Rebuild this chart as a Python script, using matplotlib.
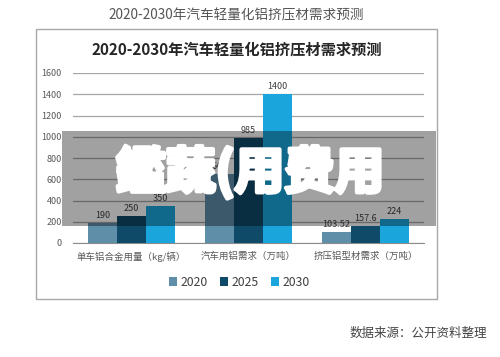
import matplotlib
matplotlib.use("Agg")
import matplotlib.pyplot as plt
import matplotlib.patheffects as pe
from matplotlib.patches import Rectangle
import numpy as np

plt.rcParams['font.family'] = ['Noto Sans CJK SC', 'DejaVu Sans']

categories = ["单车铝合金用量（kg/辆）", "汽车用铝需求（万吨）", "挤压铝型材需求（万吨）"]
years = ["2020", "2025", "2030"]
values_2020 = [190, 645, 103.52]
values_2025 = [250, 985, 157.6]
values_2030 = [350, 1400, 224]
labels_2020 = ["190", "645", "103.52"]
labels_2025 = ["250", "985", "157.6"]
labels_2030 = ["350", "1400", "224"]
yticks = [0, 200, 400, 600, 800, 1000, 1200, 1400, 1600]

colors = ["#5e8ea8", "#0f4a68", "#1aa5dd"]

W, H = 500, 357
fig = plt.figure(figsize=(5, 3.57), dpi=100)

def fx(px):
    return px / W

def fy(py):
    return 1 - py / H

# outer title
fig.text(fx(236), fy(15), "2020-2030年汽车轻量化铝挤压材需求预测", ha='center', va='center',
         fontsize=9.8, color='#555555')

# chart box
fig.add_artist(Rectangle((fx(36), fy(299)), fx(437) - fx(36), fy(29) - fy(299),
                         transform=fig.transFigure, facecolor='white', edgecolor='#a8a8a8',
                         linewidth=1.0, zorder=0))

fig.text(fx(237), fy(50), "2020-2030年汽车轻量化铝挤压材需求预测", ha='center', va='center',
         fontsize=11, fontweight='bold', color='#262626')

ax = fig.add_axes([fx(73), fy(243), fx(424) - fx(73), fy(73) - fy(243)])
ax.set_facecolor('none')
x = np.arange(len(categories))
bw = 0.248
series = [(values_2020, labels_2020), (values_2025, labels_2025), (values_2030, labels_2030)]
for i, ((vals, labs), c, yr) in enumerate(zip(series, colors, years)):
    bars = ax.bar(x + (i - 1) * bw, vals, width=bw, color=c, label=yr, zorder=3)
    for b, lab in zip(bars, labs):
        ax.text(b.get_x() + b.get_width() / 2, b.get_height() + 30, lab, ha='center', va='bottom',
                fontsize=6.5, color='#404040', zorder=4)

ax.set_xlim(-0.5, 2.5)
ax.set_ylim(0, 1600)
ax.set_yticks(yticks)
ax.set_yticklabels([str(t) for t in yticks], fontsize=6.5, color='#595959')
ax.set_xticks(x)
ax.set_xticklabels(categories, fontsize=6.8, color='#595959')
ax.tick_params(axis='both', length=0, pad=8)
ax.tick_params(axis='x', pad=6)
ax.grid(axis='y', color='#a6a6a6', linewidth=0.9, zorder=0)
for s in ['top', 'right', 'left']:
    ax.spines[s].set_visible(False)
ax.spines['bottom'].set_color('#8c8c8c')

handles, labs = ax.get_legend_handles_labels()
fig.legend(handles, labs, loc='center', bbox_to_anchor=(fx(239), fy(282)), ncol=3,
           frameon=False, fontsize=8.8, handlelength=0.7, handleheight=0.7,
           handletextpad=0.25, columnspacing=1.0, labelcolor='#404040')

# grey overlay band
fig.add_artist(Rectangle((fx(62), fy(226)), fx(436) - fx(62), fy(131) - fy(226),
                         transform=fig.transFigure, facecolor='black', alpha=0.37,
                         edgecolor='none', zorder=10))

# watermark text
fig.text(fx(250), fy(173), "鑑蔬(用费用", ha='center', va='center', fontsize=36,
         fontweight='bold', color='white', zorder=11,
         path_effects=[pe.withStroke(linewidth=3, foreground='white')])

# source
fig.text(fx(487), fy(333), "数据来源：公开资料整理", ha='right', va='center',
         fontsize=9, color='#444444')

fig.savefig("out.png", dpi=100)
